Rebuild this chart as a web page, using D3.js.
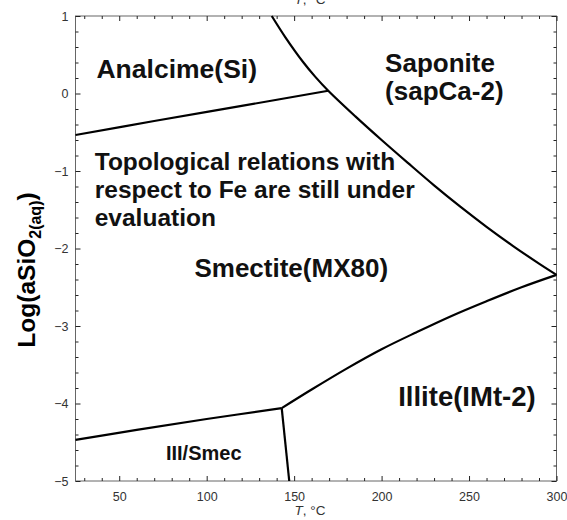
<!DOCTYPE html>
<html>
<head>
<meta charset="utf-8">
<script src="https://cdn.jsdelivr.net/npm/d3@7/dist/d3.min.js"></script>
<style>
  html, body { margin: 0; padding: 0; background: #fff; }
  svg { display: block; }
</style>
</head>
<body>
<svg id="chart" width="567" height="520"></svg>
<script>
// Phase boundaries: temperature (°C) vs log activity of aqueous silica
const analcimeSmectite = [[25, -0.535], [70, -0.355], [120, -0.16], [169.5, 0.036]];
const saponiteBoundary = [[137.2, 1.0], [145, 0.725], [155, 0.41], [162, 0.218], [169.5, 0.036],
  [185, -0.295], [200, -0.60], [215, -0.895], [230, -1.185], [245, -1.46], [260, -1.72],
  [275, -1.965], [290, -2.195], [300, -2.34]];
const smectiteIllite = [[142.9, -4.06], [160, -3.82], [180, -3.55], [200, -3.30], [220, -3.08],
  [240, -2.87], [260, -2.68], [280, -2.50], [300, -2.34]];
const illiteMixed = [[142.9, -4.06], [147.2, -5.0]];
const smectiteMixed = [[25, -4.47], [60, -4.34], [100, -4.20], [142.9, -4.06]];

const xTicks = [50, 100, 150, 200, 250, 300];
const yTicks = [-5, -4, -3, -2, -1, 0, 1];

const fieldLabels = [
  { lines: ["Analcime(Si)"], t: 37, v: 0.2, size: 26.5 },
  { lines: ["Saponite", "(sapCa-2)"], t: 202, v: 0.28, size: 26 },
  { lines: ["Topological relations with", "respect to Fe are still under", "evaluation"], t: 36, v: -0.99, size: 24.5 },
  { lines: ["Smectite(MX80)"], t: 93, v: -2.37, size: 26 },
  { lines: ["Illite(IMt-2)"], t: 209.5, v: -4.03, size: 27.5 }
];
const smallLabel = { text: "III/Smec", t: 76.7, v: -4.73, size: 20 };

const svg = d3.select("#chart");
const margin = { left: 75.5, right: 10.5, top: 16, bottom: 39 };
const W = 567, H = 520;
const x = d3.scaleLinear().domain([25, 300]).range([margin.left, W - margin.right]);
const y = d3.scaleLinear().domain([-5, 1]).range([H - margin.bottom, margin.top]);

const font = "Liberation Sans, Arial, Helvetica, sans-serif";

// frame
svg.append("rect")
  .attr("x", x(25)).attr("y", y(1))
  .attr("width", x(300) - x(25)).attr("height", y(-5) - y(1))
  .attr("fill", "none").attr("stroke", "#666").attr("stroke-width", 1);

const xMinor = d3.range(30, 300, 10).filter(d => d % 50 !== 0);
const yMinor = d3.range(-4.8, 1, 0.2).map(d => +d.toFixed(1)).filter(d => Math.abs(d - Math.round(d)) > 1e-6);

function styleAxis(g) {
  g.select(".domain").remove();
  g.selectAll(".tick line").attr("stroke", "#222").attr("stroke-width", 1);
  g.selectAll(".tick text").attr("fill", "#333").attr("font-family", font).attr("font-size", 12.5);
}

// major ticks with labels
svg.append("g").attr("transform", `translate(0,${y(-5)})`)
  .call(d3.axisBottom(x).tickValues(xTicks).tickSize(-5).tickPadding(11).tickFormat(d3.format("d")))
  .call(styleAxis);
svg.append("g").attr("transform", `translate(${x(25)},0)`)
  .call(d3.axisLeft(y).tickValues(yTicks).tickSize(-5).tickPadding(7).tickFormat(d3.format("d")))
  .call(styleAxis);
svg.append("g").attr("transform", `translate(0,${y(1)})`)
  .call(d3.axisTop(x).tickValues(xTicks).tickSize(-5).tickFormat(""))
  .call(styleAxis);
svg.append("g").attr("transform", `translate(${x(300)},0)`)
  .call(d3.axisRight(y).tickValues(yTicks).tickSize(-5).tickFormat(""))
  .call(styleAxis);

// minor ticks
svg.append("g").attr("transform", `translate(0,${y(-5)})`)
  .call(d3.axisBottom(x).tickValues(xMinor).tickSize(-3).tickFormat("")).call(styleAxis);
svg.append("g").attr("transform", `translate(0,${y(1)})`)
  .call(d3.axisTop(x).tickValues(xMinor).tickSize(-3).tickFormat("")).call(styleAxis);
svg.append("g").attr("transform", `translate(${x(25)},0)`)
  .call(d3.axisLeft(y).tickValues(yMinor).tickSize(-3).tickFormat("")).call(styleAxis);
svg.append("g").attr("transform", `translate(${x(300)},0)`)
  .call(d3.axisRight(y).tickValues(yMinor).tickSize(-3).tickFormat("")).call(styleAxis);

// boundary lines
const line = d3.line().x(d => x(d[0])).y(d => y(d[1])).curve(d3.curveCatmullRom.alpha(0.5));
const straight = d3.line().x(d => x(d[0])).y(d => y(d[1]));
[analcimeSmectite, saponiteBoundary, smectiteIllite, smectiteMixed].forEach(data => {
  svg.append("path").attr("d", line(data))
    .attr("fill", "none").attr("stroke", "#000").attr("stroke-width", 2.2).attr("stroke-linejoin", "round");
});
svg.append("path").attr("d", straight(illiteMixed))
  .attr("fill", "none").attr("stroke", "#000").attr("stroke-width", 2.2);

// field labels
fieldLabels.forEach(lab => {
  const tx = svg.append("text")
    .attr("x", x(lab.t)).attr("y", y(lab.v))
    .attr("font-family", font).attr("font-weight", "bold").attr("font-size", lab.size).attr("fill", "#111");
  lab.lines.forEach((s, i) => {
    tx.append("tspan").attr("x", x(lab.t)).attr("dy", i === 0 ? 0 : 28).text(s);
  });
});
svg.append("text")
  .attr("x", x(smallLabel.t)).attr("y", y(smallLabel.v))
  .attr("font-family", font).attr("font-weight", "bold").attr("font-size", smallLabel.size).attr("fill", "#111")
  .text(smallLabel.text);

// axis titles
const xTitle = (yy) => {
  const t = svg.append("text").attr("x", (x(25) + x(300)) / 2 - 6).attr("y", yy)
    .attr("text-anchor", "middle").attr("font-family", font).attr("font-size", 13.5).attr("fill", "#333");
  t.append("tspan").attr("font-style", "italic").text("T");
  t.append("tspan").text(", °C");
};
xTitle(515);
xTitle(4);

const yTitle = svg.append("text")
  .attr("transform", `translate(35,270) rotate(-90)`)
  .attr("text-anchor", "middle")
  .attr("font-family", font).attr("font-weight", "bold").attr("font-size", 24.5).attr("fill", "#000");
yTitle.append("tspan").text("Log(aSiO");
yTitle.append("tspan").attr("font-size", 16).attr("dy", 6).text("2(aq)");
yTitle.append("tspan").attr("dy", -6).text(")");
</script>
</body>
</html>
